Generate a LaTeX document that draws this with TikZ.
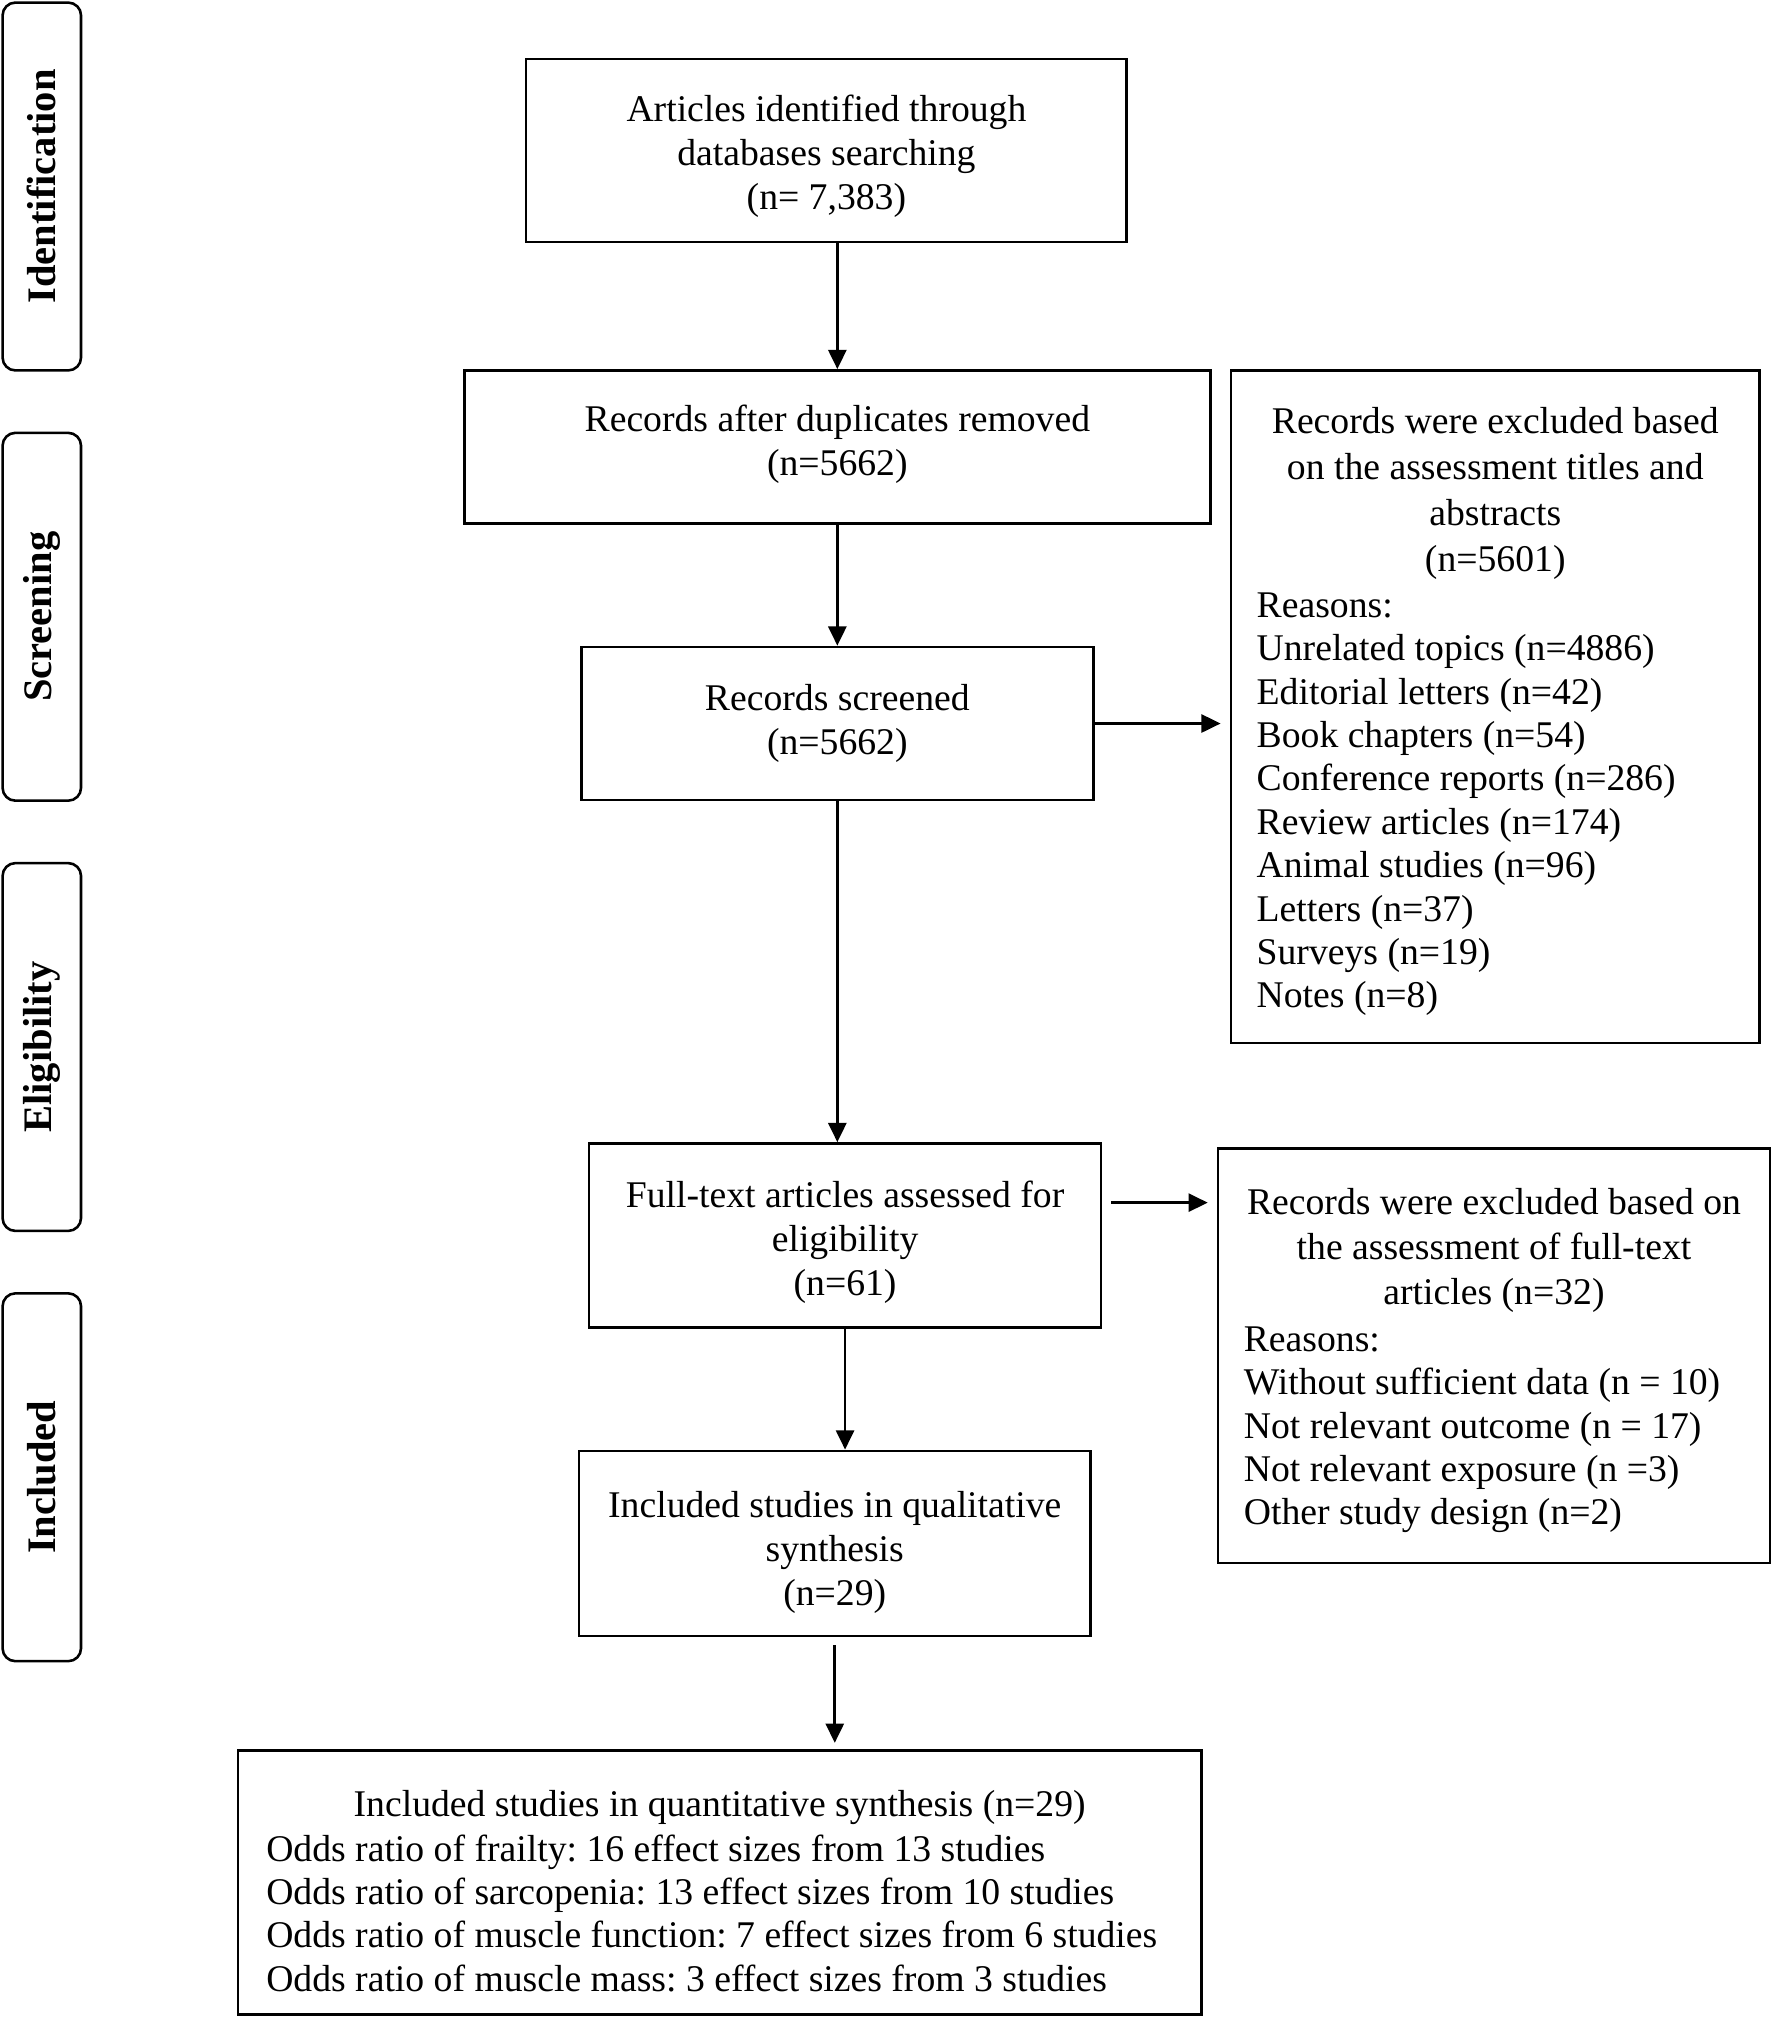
\documentclass[tikz,border=0pt]{standalone}
\usepackage{fontspec}
\setmainfont{Liberation Serif}
\usetikzlibrary{arrows.meta}
\setlength{\parindent}{0pt}
\frenchspacing
\newcommand{\diagfs}{\fontsize{29.3}{34.2}\selectfont}
\newcommand{\listfs}{\fontsize{29.3}{33.7}\selectfont}
\newcommand{\boxlines}[2]{\raisebox{#1}[\height][\depth]{\begin{tabular}{@{}c@{}}#2\end{tabular}}}
\newcommand{\listlines}[2]{\raisebox{#1}[\height][\depth]{\begin{tabular}{@{}l@{}}#2\end{tabular}}}
\newcommand{\hdr}[2]{\makebox[#1][c]{#2}}
\begin{document}
\begin{tikzpicture}[x=1pt,y=-1pt,
  box/.style={draw, line width=2pt, inner sep=0pt, font=\diagfs},
  listbox/.style={draw, line width=2pt, inner sep=0pt, font=\listfs},
  side/.style={draw, line width=2pt, rounded corners=10pt, inner sep=0pt,
    minimum width=286pt, minimum height=61pt, rotate=90,
    font=\fontsize{31.5}{34}\selectfont\bfseries},
  arr/.style={line width=2.2pt, -{Triangle[length=15pt,width=14pt]}}]
\useasboundingbox[fill=white] (0,0) rectangle (1380,1572.8);

% phase labels
\node[side] (s1) at (32.5,145) {Identification};
\node[side] (s2) at (32.5,479.5) {Screening};
\node[side] (s3) at (32.5,814) {Eligibility};
\node[side] (s4) at (32.5,1148.5) {Included};

% main flow
\node[box, minimum width=467pt, minimum height=142pt] (b1) at (642.5,117)
  {\boxlines{-5pt}{Articles identified through\\databases searching\\(n= 7,383)}};
\node[box, minimum width=580pt, minimum height=119pt] (b2) at (651,347.5)
  {\boxlines{1.5pt}{Records after duplicates removed\\(n=5662)}};
\node[box, minimum width=398pt, minimum height=119pt] (b3) at (651,562.5)
  {\boxlines{0pt}{Records screened\\(n=5662)}};
\node[box, minimum width=398pt, minimum height=143pt] (b4) at (657,960.5)
  {\boxlines{-6pt}{Full-text articles assessed for\\eligibility\\(n=61)}};
\node[box, minimum width=398pt, minimum height=144pt] (b5) at (649,1200)
  {\boxlines{-7pt}{Included studies in qualitative\\synthesis\\(n=29)}};

% exclusion boxes
\node[listbox, minimum width=411pt, minimum height=523pt] (e1) at (1162.5,549.5)
  {\listlines{-4pt}{\hdr{371pt}{Records were excluded based}\\[2pt]
   \hdr{371pt}{on the assessment titles and}\\[2pt]
   \hdr{371pt}{abstracts}\\[2pt]
   \hdr{371pt}{(n=5601)}\\[2.3pt]
   Reasons:\\Unrelated topics (n=4886)\\Editorial letters (n=42)\\Book chapters (n=54)\\Conference reports (n=286)\\Review articles (n=174)\\Animal studies (n=96)\\Letters (n=37)\\Surveys (n=19)\\Notes (n=8)}};
\node[listbox, minimum width=429pt, minimum height=322pt] (e2) at (1161.5,1054)
  {\listlines{-4pt}{\hdr{389pt}{Records were excluded based on}\\[1.5pt]
   \hdr{389pt}{the assessment of full-text}\\[1.5pt]
   \hdr{389pt}{articles (n=32)}\\[2.5pt]
   Reasons:\\Without sufficient data (n = 10)\\Not relevant outcome (n = 17)\\Not relevant exposure (n =3)\\Other study design (n=2)}};

% final box
\node[listbox, minimum width=749pt, minimum height=205pt] (b6) at (559.5,1463.5)
  {\listlines{-10pt}{\hdr{705pt}{Included studies in quantitative synthesis (n=29)}\\[1pt]
   Odds ratio of frailty: 16 effect sizes from 13 studies\\Odds ratio of sarcopenia: 13 effect sizes from 10 studies\\Odds ratio of muscle function: 7 effect sizes from 6 studies\\Odds ratio of muscle mass: 3 effect sizes from 3 studies}};

% connectors
\draw[arr] (b1.south -| b2.north) -- (b2.north);
\draw[arr] (b2.south) -- (b3.north);
\draw[arr] (b3.south) -- (b3.south |- b4.north);
\draw[arr] (b4.south) -- (b4.south |- b5.north);
\draw[arr, shorten <=6pt, shorten >=5pt] (b5.south) -- (b5.south |- b6.north);
\draw[arr, shorten >=7pt] (b3.east) -- (b3.east -| e1.west);
\draw[arr, shorten <=7pt, shorten >=7pt] ([yshift=25.5pt]b4.east) -- ([yshift=25.5pt]b4.east -| e2.west);
\end{tikzpicture}
\end{document}
